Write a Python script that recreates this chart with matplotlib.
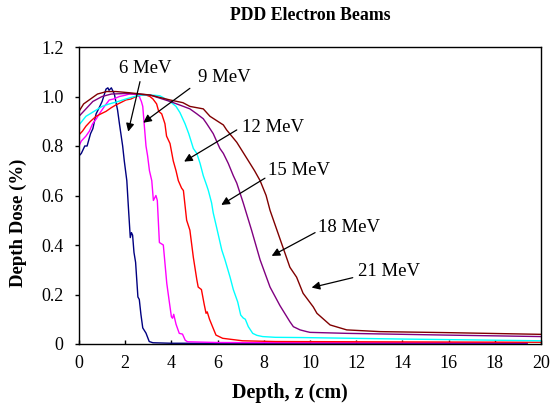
import matplotlib
matplotlib.use("Agg")
import matplotlib.pyplot as plt

plt.rcParams['font.family'] = ['Liberation Serif', 'DejaVu Serif']

# ---- data ----
x6 = [0, 0.1, 0.25, 0.35, 0.5, 0.6, 0.74, 0.85, 1.0, 1.17, 1.25, 1.3, 1.4, 1.53, 1.67, 1.75, 1.89, 1.96,
      2.07, 2.14, 2.22, 2.27, 2.32, 2.38, 2.45, 2.55, 2.61, 2.68, 2.76, 2.9, 3.04, 3.2, 4, 6, 10, 15, 19.4]
y6 = [0.76, 0.77, 0.80, 0.80, 0.85, 0.87, 0.93, 0.95, 0.98, 1.03, 1.035, 1.025, 1.035, 1.01, 0.945, 0.89, 0.80, 0.74,
      0.66, 0.55, 0.43, 0.45, 0.44, 0.37, 0.33, 0.19, 0.18, 0.12, 0.065, 0.044, 0.01, 0.005, 0.003, 0.003, 0.003, 0.003, 0.003]

x9 = [0, 0.1, 0.3, 0.45, 0.59, 0.75, 0.88, 1.1, 1.31, 1.5, 1.75, 2.0, 2.18, 2.4, 2.61, 2.7, 2.76, 2.83, 2.9,
      2.97, 3.05, 3.15, 3.22, 3.33, 3.39, 3.48, 3.65, 3.8, 3.91, 4.0, 4.05, 4.1, 4.2, 4.34, 4.48, 4.6, 4.7,
      6, 10, 15, 19.4]
y9 = [0.80, 0.82, 0.84, 0.86, 0.89, 0.91, 0.93, 0.96, 0.986, 0.99, 1.0, 1.005, 1.01, 1.01, 1.0, 0.98, 0.96, 0.88, 0.80,
      0.76, 0.70, 0.66, 0.58, 0.60, 0.58, 0.41, 0.40, 0.245, 0.17, 0.11, 0.104, 0.12, 0.08, 0.043, 0.04, 0.015, 0.009,
      0.006, 0.005, 0.005, 0.005]

x12 = [0, 0.15, 0.3, 0.5, 0.74, 0.95, 1.17, 1.4, 1.6, 1.8, 2.03, 2.25, 2.47, 2.7, 2.9, 3.07, 3.2, 3.36, 3.45,
       3.58, 3.72, 3.79, 3.94, 4.08, 4.2, 4.3, 4.44, 4.52, 4.66, 4.8, 4.95, 5.1, 5.16, 5.3, 5.42, 5.5, 5.55,
       5.65, 5.78, 5.93, 6.22, 7.08, 8.5, 12, 16, 20]
y12 = [0.845, 0.86, 0.88, 0.90, 0.92, 0.93, 0.94, 0.955, 0.966, 0.975, 0.986, 0.99, 1.0, 1.005, 1.006, 1.0, 0.99, 0.97, 0.94,
       0.93, 0.89, 0.84, 0.81, 0.74, 0.70, 0.66, 0.63, 0.62, 0.50, 0.46, 0.35, 0.26, 0.23, 0.22, 0.16, 0.124, 0.13,
       0.10, 0.07, 0.036, 0.023, 0.013, 0.01, 0.009, 0.008, 0.007]

x15 = [0, 0.3, 0.74, 1.0, 1.31, 1.7, 2.03, 2.4, 2.76, 3.1, 3.5, 3.94, 4.2, 4.37, 4.59, 4.75, 4.95, 5.1, 5.24,
       5.38, 5.53, 5.6, 5.74, 5.81, 5.96, 6.18, 6.32, 6.54, 6.68, 6.87, 7.0, 7.11, 7.2, 7.33, 7.52, 7.7, 7.95,
       8.5, 9.7, 14, 20]
y15 = [0.885, 0.92, 0.945, 0.96, 0.97, 0.98, 0.99, 1.0, 1.006, 1.006, 1.003, 0.98, 0.96, 0.935, 0.89, 0.85, 0.79, 0.77, 0.73,
       0.68, 0.64, 0.62, 0.57, 0.53, 0.47, 0.38, 0.34, 0.27, 0.22, 0.17, 0.117, 0.105, 0.10, 0.07, 0.043, 0.035, 0.03,
       0.027, 0.026, 0.02, 0.013]

x18 = [0, 0.3, 0.6, 1.0, 1.4, 2.0, 2.5, 3.07, 3.94, 4.52, 4.8, 5.1, 5.38, 5.53, 5.81, 6.1, 6.25, 6.46, 6.68,
       6.83, 7.04, 7.11, 7.47, 7.84, 8.27, 8.7, 9.13, 9.28, 9.57, 9.86, 10.0, 11.6, 15.9, 20]
y18 = [0.92, 0.95, 0.98, 1.0, 1.01, 1.012, 1.01, 1.006, 0.98, 0.96, 0.95, 0.93, 0.91, 0.89, 0.85, 0.79, 0.77, 0.73, 0.68,
       0.65, 0.59, 0.57, 0.46, 0.34, 0.23, 0.155, 0.09, 0.07, 0.057, 0.05, 0.047, 0.043, 0.036, 0.03]

x21 = [0, 0.2, 0.5, 0.8, 1.2, 1.6, 2.2, 3.07, 3.94, 4.5, 4.8, 5.38, 5.67, 6.25, 6.39, 6.83, 7.3, 7.6, 7.84,
       8.1, 8.27, 8.7, 9.13, 9.42, 9.7, 10.14, 10.3, 10.87, 11.59, 13.03, 15.9, 20]
y21 = [0.94, 0.97, 0.99, 1.01, 1.02, 1.02, 1.015, 1.006, 0.986, 0.975, 0.96, 0.95, 0.92, 0.885, 0.865, 0.815, 0.745, 0.70, 0.66,
       0.60, 0.54, 0.425, 0.31, 0.27, 0.205, 0.15, 0.124, 0.077, 0.057, 0.05, 0.046, 0.039]

labels = ['6 MeV', '9 MeV', '12 MeV', '15 MeV', '18 MeV', '21 MeV']
colors = ['#000080', '#FF00FF', '#FF0000', '#00FFFF', '#800080', '#800000']
label_pos = [(2.86, 1.115), (6.28, 1.075), (8.4, 0.873), (9.52, 0.703), (11.69, 0.469), (13.42, 0.291)]
arrow_tail = [(2.64, 1.06), (4.8, 1.033), (6.83, 0.865), (8.05, 0.67), (10.22, 0.45), (11.85, 0.268)]
arrow_head = [(2.13, 0.858), (2.78, 0.894), (4.55, 0.737), (6.16, 0.562), (8.34, 0.356), (10.07, 0.228)]

xticks = [0, 2, 4, 6, 8, 10, 12, 14, 16, 18, 20]
yticks = [0, 0.2, 0.4, 0.6, 0.8, 1.0, 1.2]
yticklabels = ['0', '0.2', '0.4', '0.6', '0.8', '1.0', '1.2']

# ---- plot ----
fig = plt.figure(figsize=(5.55, 4.09), dpi=100)
ax = fig.add_axes([79/555, 1-344/409, (541-79)/555, (344-47)/409])

series = [(x6, y6), (x9, y9), (x12, y12), (x15, y15), (x18, y18), (x21, y21)]
for (xs, ys), c in zip(series, colors):
    ax.plot(xs, ys, color=c, lw=1.0)

for lab, lp, t, h in zip(labels, label_pos, arrow_tail, arrow_head):
    ax.text(lp[0], lp[1], lab, ha='center', va='center', fontsize=13.5)
    ax.annotate('', xy=h, xytext=t,
                arrowprops=dict(arrowstyle='-|>', color='black', lw=0.9, mutation_scale=12,
                                shrinkA=0, shrinkB=0))

ax.set_xlim(0, 20)
ax.set_ylim(0, 1.2)
ax.set_xticks(xticks)
ax.set_xticklabels([str(v) for v in xticks])
ax.set_yticks(yticks)
ax.set_yticklabels(yticklabels)
ax.tick_params(axis='y', labelsize=13, direction='out', length=3, width=1, pad=8)
ax.tick_params(axis='x', labelsize=13, direction='in', length=3, width=1, pad=8)
for s in ax.spines.values():
    s.set_linewidth(1.0)

fig.text(290/555, 1-393/409, 'Depth, z (cm)', ha='center', va='center', fontsize=14.5, fontweight='bold')
fig.text(18/555, 1-223/409, 'Depth Dose (%)', ha='center', va='center', rotation=90,
         fontsize=13.5, fontweight='bold')
fig.text(310/555, 1-16/409, 'PDD Electron Beams', ha='center', va='center', fontsize=12.8, fontweight='bold')

fig.savefig('out.png', dpi=100)
